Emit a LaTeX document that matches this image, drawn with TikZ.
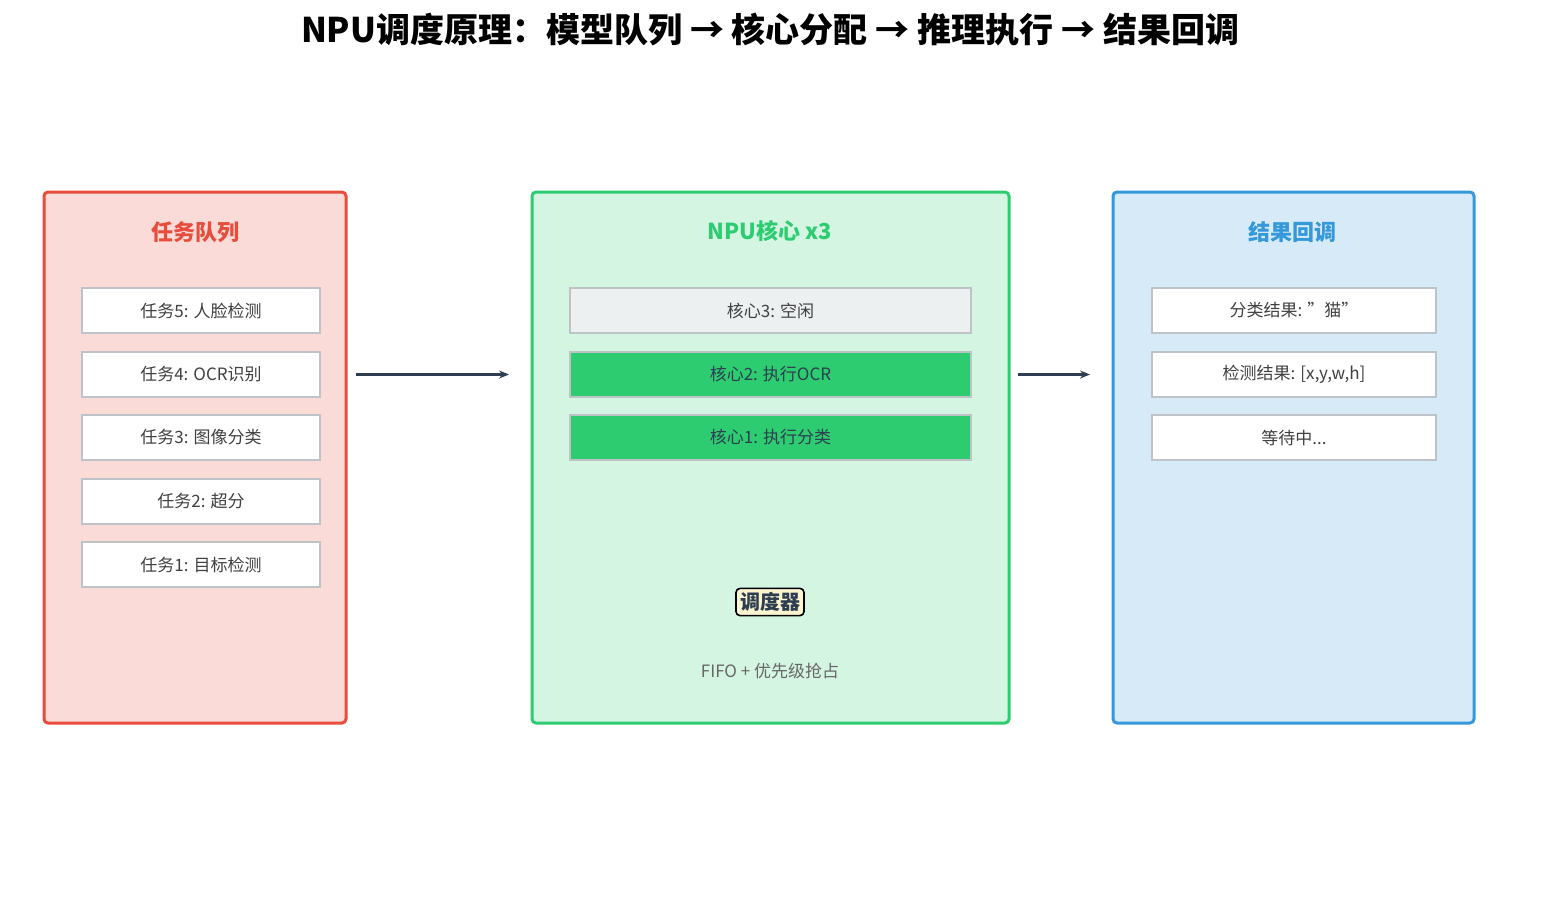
\documentclass[tikz,border=0pt]{standalone}
\usepackage{fontspec}
\setmainfont{Noto Sans CJK SC}
\usetikzlibrary{positioning}
\usetikzlibrary{arrows.meta}
\definecolor{redb}{HTML}{E74C3C}
\definecolor{redf}{HTML}{FADBD8}
\definecolor{grnb}{HTML}{2ECC71}
\definecolor{grnf}{HTML}{D5F5E3}
\definecolor{blub}{HTML}{3498DB}
\definecolor{bluf}{HTML}{D6EAF8}
\definecolor{dark}{HTML}{2C3E50}
\definecolor{idle}{HTML}{ECF0F1}
\definecolor{itemb}{HTML}{BDC3C7}
\definecolor{yel}{HTML}{FCF3CF}
\begin{document}
\begin{tikzpicture}
[x=0.5pt,y=-0.5pt, panel node/.style={rectangle,rounded corners=2pt,line
    width=1.5pt,minimum height=265.5pt,inner sep=0pt,outer sep=0pt},
  item node/.style={rectangle,draw=itemb,fill=white,line width=0.6pt,minimum
    height=22.5pt,inner sep=0pt,outer sep=0pt,font=\fontsize{8.5}{10}\selectfont,
    text=black!75},
  head node/.style={inner sep=0pt,font=\fontsize{11}{13}\selectfont\bfseries},
  flow/.style={-{Stealth[length=5pt,width=4pt]},line width=1.2pt,draw=dark}]
    \useasboundingbox (0,0) rectangle (1541,906);

    \node [font=\fontsize{17}{20}\selectfont\bfseries] (title) at (770,30)
        {NPU调度原理：模型队列 → 核心分配 → 推理执行 → 结果回调};

    % panels
    \node [panel node,draw=redb,fill=redf,minimum width=151pt] (queue) at (195,457.5) {};
    \node [panel node,draw=grnb,fill=grnf,minimum width=238.5pt] (cores) at (770.5,457.5) {};
    \node [panel node,draw=blub,fill=bluf,minimum width=180.5pt] (result) at (1293.5,457.5) {};

    \node [head node,text=redb] (qh) at (195,232) {任务队列};
    \node [head node,text=grnb] (ch) at (770,231) {NPU核心 x3};
    \node [head node,text=blub] (rh) at (1292,232) {结果回调};

    % task queue
    \node [item node,minimum width=119pt] (q5) at (201,310.5) {任务5: 人脸检测};
    \node [item node,minimum width=119pt] (q4) [below=9.5pt of q5] {任务4: OCR识别};
    \node [item node,minimum width=119pt] (q3) [below=9pt of q4] {任务3: 图像分类};
    \node [item node,minimum width=119pt] (q2) [below=9.5pt of q3] {任务2: 超分};
    \node [item node,minimum width=119pt] (q1) [below=9pt of q2] {任务1: 目标检测};

    % cores
    \node [item node,fill=idle,minimum width=200.5pt] (c3) at (770.5,310.5) {核心3: 空闲};
    \node [item node,fill=grnb,text=dark,minimum width=200.5pt] (c2) [below=9.5pt of c3] {核心2: 执行OCR};
    \node [item node,fill=grnb,text=dark,minimum width=200.5pt] (c1) [below=9pt of c2] {核心1: 执行分类};

    \node [rectangle,rounded corners=2pt,draw=black,fill=yel,line width=0.8pt,
        inner sep=2pt,text=dark,font=\fontsize{10}{12}\selectfont\bfseries] (sched) at (770,602) {调度器};
    \node [inner sep=0pt,text=black!60,font=\fontsize{8.5}{10}\selectfont] (policy) at (770,671) {FIFO + 优先级抢占};

    % results
    \node [item node,minimum width=142pt] (r1) at (1294,310.5) {分类结果: "猫"};
    \node [item node,minimum width=142pt] (r2) [below=9.5pt of r1] {检测结果: [x,y,w,h]};
    \node [item node,minimum width=142pt] (r3) [below=9pt of r2] {等待中...};

    \draw[flow,shorten <=5pt,shorten >=11.5pt] (queue.east |- c2) -- (cores.west |- c2);
    \draw[flow,shorten <=4.5pt,shorten >=11.5pt] (cores.east |- c2) -- (result.west |- c2);
\end{tikzpicture}
\end{document}
